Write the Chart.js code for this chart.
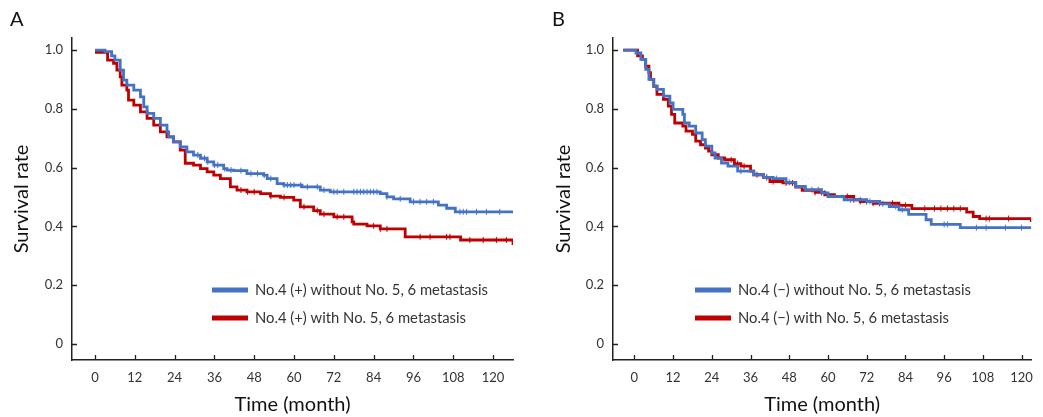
<!DOCTYPE html>
<html>
<head>
<meta charset="utf-8">
<script src="https://cdn.jsdelivr.net/npm/chart.js@4.4.0/dist/chart.umd.min.js"></script>
<style>
  body { margin: 0; background: #fff; width: 1043px; height: 417px; overflow: hidden; position: relative; font-family: Lato, sans-serif; }
  .box { position: absolute; top: 0; height: 417px; }
  .tag { position: absolute; top: 6px; font-size: 20px; color: #111; }
</style>
</head>
<body>
<div class="box" style="left:0;width:522px"><canvas id="chartA" width="522" height="417"></canvas></div>
<div class="box" style="left:522px;width:521px"><canvas id="chartB" width="521" height="417"></canvas></div>
<div class="tag" style="left:10px">A</div>
<div class="tag" style="left:552px">B</div>
<script>
// axis ticks
const monthTicks = [0, 12, 24, 36, 48, 60, 72, 84, 96, 108, 120];
const rateTicks = [0, 0.2, 0.4, 0.6, 0.8, 1.0];

// panel A — No.4 (+)
const labelA1 = 'No.4 (+) without No. 5, 6 metastasis';
const timeA1 = [0, 3, 5, 6, 7.6, 8.6, 9.6, 11.7, 13.7, 14.7, 15.7, 17.7, 19.7, 21.7, 22.2, 23.7, 25.7, 27.7, 29.7, 31.8, 33.8, 35.8, 38.8, 39.8, 41.8, 45.8, 50.8, 51.9, 54.9, 56.9, 62.4, 67.9, 70.9, 86, 88, 90, 95, 103.5, 106, 108.6, 126];
const survA1 = [1.0, 0.995, 0.98, 0.966, 0.932, 0.898, 0.881, 0.864, 0.841, 0.807, 0.785, 0.768, 0.745, 0.722, 0.705, 0.688, 0.671, 0.654, 0.643, 0.632, 0.620, 0.609, 0.597, 0.592, 0.590, 0.580, 0.575, 0.563, 0.546, 0.541, 0.535, 0.524, 0.518, 0.512, 0.501, 0.494, 0.484, 0.473, 0.462, 0.450, 0.450];
const censA1 = [31, 33, 34, 36, 37, 39, 41, 44, 47, 49, 51, 53, 57, 58, 59, 60, 62, 64, 67, 69, 72, 73, 75, 78, 79, 80, 81, 82, 83, 84, 85, 88, 92, 96, 98, 100, 102, 110, 111, 112, 115, 118, 122];

const labelA2 = 'No.4 (+) with No. 5, 6 metastasis';
const timeA2 = [0, 3.8, 5.6, 6.6, 7.6, 8.1, 9.6, 10.1, 11.7, 13.7, 15.7, 17.7, 19.7, 21.7, 23.7, 25.7, 27.2, 29.7, 31.8, 33.8, 35.8, 37.8, 40.8, 42.8, 45.8, 49.9, 52.9, 55.9, 59.9, 61.9, 65.9, 67.9, 72, 77.5, 78, 82, 86, 93.5, 110.2, 125.6, 126];
const survA2 = [0.992, 0.966, 0.955, 0.932, 0.909, 0.881, 0.864, 0.830, 0.813, 0.790, 0.768, 0.745, 0.722, 0.705, 0.688, 0.660, 0.615, 0.609, 0.597, 0.586, 0.575, 0.563, 0.535, 0.524, 0.518, 0.512, 0.503, 0.499, 0.490, 0.467, 0.454, 0.442, 0.433, 0.416, 0.408, 0.402, 0.392, 0.365, 0.354, 0.354, 0.337];
const censA2 = [44, 46, 48, 53, 57, 63, 67, 69, 73, 75, 84, 86, 88, 98, 101, 106, 107, 113, 117, 121, 124];

// panel B — No.4 (−)
const labelB1 = 'No.4 (\u2212) without No. 5, 6 metastasis';
const timeB1 = [-3.5, 0.5, 2, 3.5, 4.5, 6, 7, 9, 11, 12, 15, 15.5, 17, 19, 21, 22, 24, 25, 27, 29, 32, 37, 40, 43, 47, 50, 53, 58, 60, 65, 72, 76, 79, 82, 85, 90.4, 92, 101, 123];
const survB1 = [1.0, 0.99, 0.968, 0.934, 0.9, 0.877, 0.866, 0.843, 0.820, 0.798, 0.781, 0.752, 0.741, 0.718, 0.695, 0.673, 0.650, 0.633, 0.616, 0.605, 0.588, 0.576, 0.567, 0.563, 0.550, 0.536, 0.525, 0.514, 0.502, 0.491, 0.485, 0.477, 0.468, 0.457, 0.441, 0.423, 0.407, 0.396, 0.396];
const censB1 = [33, 41, 44, 48, 55, 57, 59, 67, 70, 73, 77, 81, 83, 96, 97, 106, 109, 115, 120];

const labelB2 = 'No.4 (\u2212) with No. 5, 6 metastasis';
const timeB2 = [-3.5, 1, 2.5, 3.5, 4.5, 5, 6, 7, 9, 10.5, 11.5, 12.5, 15, 16, 18, 19, 20.5, 22, 23, 24, 26, 28, 31, 33, 36, 37, 40, 42, 46, 50, 52, 56, 59, 62, 68, 70, 74, 82, 86, 103, 105, 107, 122.7, 123];
const survB2 = [1.0, 0.98, 0.968, 0.945, 0.923, 0.9, 0.877, 0.849, 0.832, 0.809, 0.781, 0.752, 0.741, 0.724, 0.713, 0.690, 0.678, 0.667, 0.656, 0.644, 0.633, 0.627, 0.614, 0.605, 0.588, 0.576, 0.567, 0.553, 0.548, 0.534, 0.523, 0.516, 0.508, 0.502, 0.491, 0.485, 0.479, 0.472, 0.461, 0.449, 0.434, 0.427, 0.427, 0.415];
const censB2 = [30, 32, 34, 38, 41, 43, 47, 49, 56, 58, 66, 68, 70, 72, 74, 76, 80, 82, 84, 90, 93, 95, 97, 99, 101, 109, 110, 116];

const BLUE = '#4472c4';
const RED = '#c00000';

function stepAt(times, surv, t) {
  let v = surv[0];
  for (let i = 0; i < times.length; i++) {
    if (times[i] <= t) v = surv[i];
  }
  return v;
}

function curve(label, times, surv, color) {
  return {
    label: label,
    data: times.map((t, i) => ({ x: t, y: surv[i] })),
    borderColor: color,
    borderWidth: 2.8,
    pointRadius: 0,
    stepped: 'before',
    fill: false,
    legendLine: true
  };
}

function censor(times, surv, cens, color) {
  return {
    data: cens.map(t => ({ x: t, y: stepAt(times, surv, t) })),
    showLine: false,
    pointStyle: 'line',
    rotation: 90,
    pointRadius: 3,
    borderColor: color,
    borderWidth: 1,
    legendLine: false
  };
}

const innerTicks = {
  id: 'innerTicks',
  afterDatasetsDraw(chart) {
    const { ctx, chartArea, scales: { x, y } } = chart;
    ctx.save();
    ctx.strokeStyle = '#222';
    ctx.lineWidth = 1.3;
    ctx.beginPath();
    monthTicks.forEach(m => {
      const px = Math.round(x.getPixelForValue(m)) + 0.5;
      ctx.moveTo(px, chartArea.bottom);
      ctx.lineTo(px, chartArea.bottom - 5);
    });
    rateTicks.forEach(v => {
      const py = Math.round(y.getPixelForValue(v)) + 0.5;
      ctx.moveTo(chartArea.left, py);
      ctx.lineTo(chartArea.left + 5, py);
    });
    ctx.stroke();
    ctx.restore();
  }
};

const kmLegend = {
  id: 'kmLegend',
  afterDraw(chart, args, opts) {
    const ctx = chart.ctx;
    const items = chart.data.datasets.filter(d => d.legendLine);
    ctx.save();
    ctx.font = '14.8px Lato, sans-serif';
    ctx.textBaseline = 'middle';
    items.forEach((d, i) => {
      const yy = opts.y + i * 28;
      ctx.strokeStyle = d.borderColor;
      ctx.lineWidth = 5;
      ctx.beginPath();
      ctx.moveTo(opts.x, yy);
      ctx.lineTo(opts.x + 36, yy);
      ctx.stroke();
      ctx.fillStyle = '#333';
      ctx.fillText(d.label, opts.x + 43, yy);
    });
    ctx.restore();
  }
};

function makeChart(id, sets, xMin, xMax, yAxisWidth, yTitlePad, padRight, legendX) {
  return new Chart(document.getElementById(id), {
    type: 'line',
    data: { datasets: sets },
    options: {
      responsive: false,
      animation: false,
      layout: { padding: { top: 38, right: padRight, left: 0, bottom: 0 } },
      plugins: {
        legend: { display: false },
        tooltip: { enabled: false },
        kmLegend: { x: legendX, y: 290 }
      },
      scales: {
        x: {
          type: 'linear',
          min: xMin,
          max: xMax,
          afterFit: s => { s.height = 57; },
          afterBuildTicks: s => { s.ticks = monthTicks.map(v => ({ value: v })); },
          grid: { display: true, drawOnChartArea: false, drawTicks: false },
          border: { display: true, color: '#222', width: 1.5 },
          ticks: { padding: 10, color: '#333', font: { family: 'Lato', size: 13 }, callback: v => String(v) },
          title: { display: true, text: 'Time (month)', color: '#111', font: { family: 'Lato', size: 20 }, padding: { top: 0, bottom: 0 } }
        },
        y: {
          type: 'linear',
          min: -0.054,
          max: 1.041,
          afterFit: s => { s.width = yAxisWidth; },
          afterBuildTicks: s => { s.ticks = rateTicks.map(v => ({ value: v })); },
          grid: { display: true, drawOnChartArea: false, drawTicks: false },
          border: { display: true, color: '#222', width: 1.5 },
          ticks: { padding: 9, color: '#333', font: { family: 'Lato', size: 13 }, callback: v => (v === 0 ? '0' : v.toFixed(1)) },
          title: { display: true, text: 'Survival rate', color: '#111', font: { family: 'Lato', size: 20 }, padding: { top: yTitlePad, bottom: 0 } }
        }
      }
    },
    plugins: [innerTicks, kmLegend]
  });
}

makeChart('chartA', [
  curve(labelA1, timeA1, survA1, BLUE),
  curve(labelA2, timeA2, survA2, RED),
  censor(timeA1, survA1, censA1, BLUE),
  censor(timeA2, survA2, censA2, RED)
], -6.93, 126, 72, 10, 9, 212);

makeChart('chartB', [
  curve(labelB1, timeB1, survB1, BLUE),
  curve(labelB2, timeB2, survB2, RED),
  censor(timeB1, survB1, censB1, BLUE),
  censor(timeB2, survB2, censB2, RED)
], -6.63, 123, 91, 30, 0, 173);
</script>
</body>
</html>
